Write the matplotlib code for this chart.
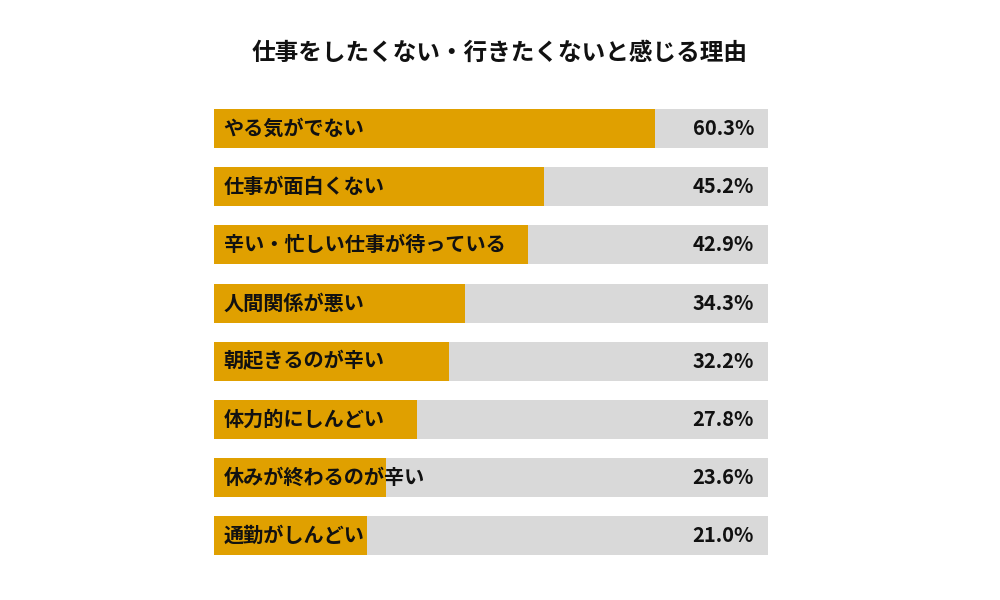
import matplotlib
matplotlib.use("Agg")
import matplotlib.pyplot as plt

plt.rcParams["font.family"] = "Noto Sans CJK JP"

categories = ["やる気がでない", "仕事が面白くない", "辛い・忙しい仕事が待っている", "人間関係が悪い",
              "朝起きるのが辛い", "体力的にしんどい", "休みが終わるのが辛い", "通勤がしんどい"]
values = [60.3, 45.2, 42.9, 34.3, 32.2, 27.8, 23.6, 21.0]
title = "仕事をしたくない・行きたくないと感じる理由"
xmax = 75.8

fig = plt.figure(figsize=(10, 6), dpi=100)
fig.patch.set_facecolor("white")
ax = fig.add_axes([0.214, 0.059, 0.554, 0.775])
y = list(range(len(categories)))
h = 0.672
ax.barh(y, [xmax] * len(y), height=h, color="#d9d9d9")
ax.barh(y, values, height=h, color="#e0a000")
for i, (c, v) in enumerate(zip(categories, values)):
    ax.text(1.3, i, c, va="center", ha="left", fontsize=14.5, fontweight="bold", color="#111111")
    ax.text(xmax - 1.9, i, f"{v:.1f}%", va="center", ha="right", fontsize=14.5, fontweight="bold", color="#111111")
ax.set_xlim(0, xmax)
ax.set_ylim(7.5, -0.5)
ax.axis("off")
fig.text(0.5, 0.912, title, ha="center", va="center", fontsize=17, fontweight="bold", color="#111111")
fig.savefig("out.png", dpi=100)
